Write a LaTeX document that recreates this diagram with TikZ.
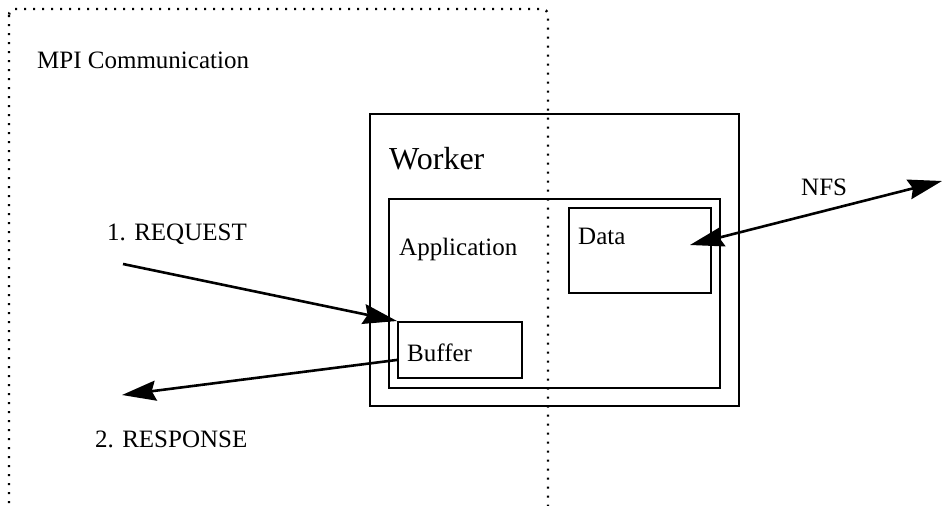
\documentclass[tikz,border=0pt]{standalone}
\usepackage{fontspec}
\setmainfont{Liberation Serif}
\usetikzlibrary{arrows.meta,positioning,calc}
\tikzset{
  box/.style={draw, line width=1.9pt, rectangle, anchor=north west, inner sep=0pt},
  label/.style={anchor=base west, inner sep=0pt, font=\fontsize{25}{30}\selectfont},
  tip/.tip={Stealth[length=34pt,width=20pt,inset=4pt]},
  flow/.style={line width=2.6pt, -tip},
  both/.style={line width=2.6pt, tip-tip},
  region/.style={line width=2.4pt, dash pattern=on 2pt off 7pt, rounded corners=6pt}
}
\begin{document}
\begin{tikzpicture}[x=1pt,y=-1pt]
  \useasboundingbox (0,0) rectangle (943,506);
  \clip (0,0) rectangle (943,506);
  \fill[white] (0,0) rectangle (943,506);

  % MPI communication region (dotted, runs off the bottom)
  \draw[region] (9,9) rectangle (548,516);
  \node[label] (mpi) at (37,68) {MPI Communication};

  % worker process and its parts
  \node[box, minimum width=369pt, minimum height=292pt] (worker) at (369,113) {};
  \node[box, minimum width=331pt, minimum height=189pt] (app) at (388,198) {};
  \node[box, minimum width=142pt, minimum height=85pt] (data) at (568,207) {};
  \node[box, minimum width=124pt, minimum height=56pt] (buffer) at (397,321) {};

  \node[label, font=\fontsize{32}{38}\selectfont] (workerlbl) at (389,169) {Worker};
  \node[label] (applbl) at (399,255) {Application};
  \node[label] (datalbl) at (578,244) {Data};
  \node[label] (buflbl) at (407,361) {Buffer};

  % message labels
  \node[label] (reqlbl) at (107,240) {1. REQUEST};
  \node[label] (reslbl) at (95,447) {2. RESPONSE};
  \node[label] (nfslbl) at (801,195) {NFS};

  % connector end points
  \coordinate (reqsrc) at (123,264);
  \coordinate (resdst) at (122,395);
  \coordinate (bufout) at ([yshift=-10pt]buffer.west);
  \coordinate (nfsin) at (690,245);
  \coordinate (nfsout) at (942,181);

  \draw[flow] (reqsrc) -- (buffer.north west);
  \draw[flow] (bufout) -- (resdst);
  \draw[both] (nfsin) -- (nfsout);
\end{tikzpicture}
\end{document}
